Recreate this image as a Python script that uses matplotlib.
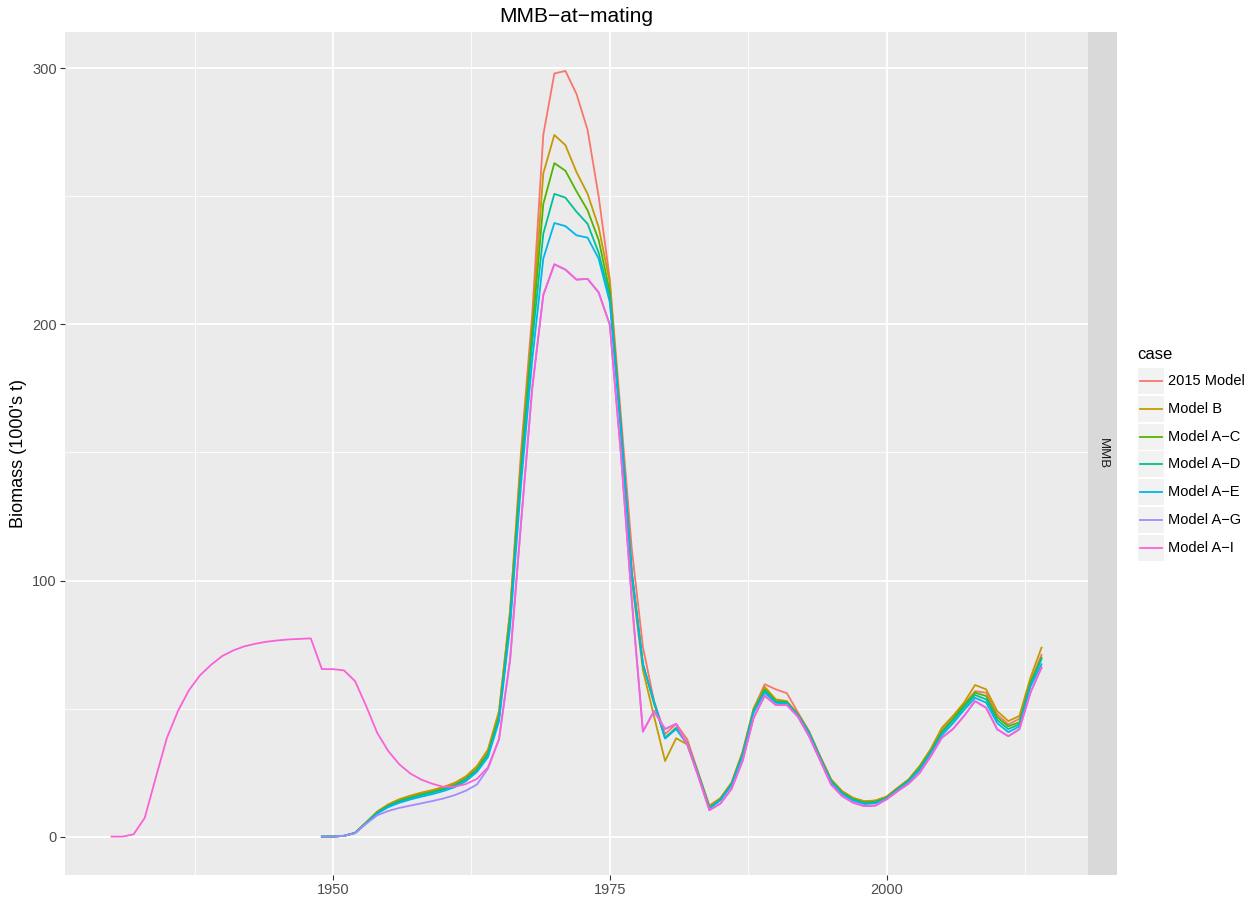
import numpy as np
import matplotlib.pyplot as plt
from matplotlib.lines import Line2D
from matplotlib.patches import Rectangle

plt.rcParams['font.family'] = ['Liberation Sans', 'DejaVu Sans']

# years: Model A-I runs from 1930, the others from 1949
years_ai = np.arange(1930, 2015)
years = np.arange(1949, 2015)

cases = ["2015 Model", "Model B", "Model A\u2212C", "Model A\u2212D",
         "Model A\u2212E", "Model A\u2212G", "Model A\u2212I"]
colors = ["#F8766D", "#C49A00", "#53B400", "#00C094", "#00B6EB", "#A58AFF", "#FB61D7"]

mmb_2015 = [0, 0, 0.3, 1.5, 5.5, 9.6, 12.4, 14.4, 15.8, 17.0,
            18.0, 19.2, 20.8, 23.2, 27.0, 33.5, 48.5, 88, 151, 204,
            274, 298, 299, 290, 276, 250, 218, 165, 112, 74,
            53, 40, 44, 38, 25, 12, 15, 21, 33, 50,
            59.5, 57.5, 56, 48.5, 41.2, 31.5, 22.3, 17.7, 15, 13.8,
            14, 15.5, 19, 22.3, 27.5, 34, 42, 47, 51.5, 56.8,
            56.2, 47.7, 43.8, 46, 60.5, 71]
mmb_b = [0, 0, 0.3, 1.5, 5.6, 9.8, 12.6, 14.6, 16.0, 17.2,
         18.2, 19.4, 21.0, 23.5, 27.5, 34, 49, 88, 148, 200,
         259, 274, 270, 259.5, 251, 238, 216.6, 160, 100, 65,
         47, 29.5, 38.4, 36, 24.5, 12, 15, 21, 33, 50,
         58.5, 53.6, 52.9, 47.7, 41, 31.3, 22.3, 17.7, 15.1, 13.8,
         14.1, 15.6, 19, 22.3, 27.6, 34.2, 42.5, 47.1, 52.3, 59.2,
         57.5, 49, 45.1, 47.1, 62, 73.8]
mmb_ac = [0, 0, 0.3, 1.4, 5.4, 9.4, 12.1, 14.0, 15.3, 16.5,
          17.5, 18.7, 20.2, 22.6, 26.3, 32.5, 47, 86, 145, 197,
          247, 263, 260, 252, 244.6, 233, 213, 161, 103, 67.5,
          52, 38.6, 42.5, 36.5, 24.5, 11.3, 14.6, 20.5, 32.3, 49.3,
          57.5, 52.9, 52.6, 47.7, 40.8, 31, 21.9, 17.2, 14.6, 13.3,
          13.6, 15.2, 18.7, 22, 27, 33.4, 41, 46, 51.3, 56.2,
          54.9, 46.6, 43.1, 44.6, 60.1, 69.9]
mmb_ad = [0, 0, 0.3, 1.4, 5.3, 9.2, 11.9, 13.7, 15.0, 16.2,
          17.2, 18.4, 19.9, 22.3, 25.9, 32, 46, 84, 142, 193,
          235.4, 251, 249.5, 244, 239.3, 228, 211, 160, 103, 67.3,
          52.5, 38.4, 42.3, 36.3, 24.3, 11.1, 14.4, 20.3, 32, 49,
          57, 52.5, 52.3, 47.4, 40.6, 30.8, 21.6, 17, 14.4, 13.1,
          13.4, 15, 18.5, 21.8, 26.6, 33, 40.5, 45.3, 50.4, 55.3,
          53.6, 45.5, 42, 43.8, 59.3, 69.3]
mmb_ae = [0, 0, 0.3, 1.4, 5.2, 9.0, 11.5, 13.2, 14.5, 15.6,
          16.6, 17.8, 19.3, 21.6, 25.2, 31, 45, 82, 138, 186,
          225.7, 239.6, 238.4, 234.8, 233.9, 225.7, 208.8, 159, 102, 67,
          52.8, 38.3, 42, 36.1, 24, 10.9, 14.2, 20, 31.5, 48.5,
          56.2, 52.2, 52, 47.2, 40.3, 30.5, 21.2, 16.6, 14, 12.7,
          13, 14.8, 18.2, 21.4, 26, 32.5, 39.6, 44.2, 49.4, 54.2,
          52.3, 44.3, 40.8, 43, 58.5, 67.3]
mmb_ag = [0, 0, 0.3, 1.3, 5.0, 8.3, 10.0, 11.2, 12.1, 13.0,
          13.9, 14.9, 16.2, 17.9, 20.3, 26.5, 38, 69, 123, 175,
          211.5, 223.5, 221.4, 217.5, 217.8, 212.5, 200, 150, 92, 41,
          49, 42, 44, 36, 23.5, 10.3, 12.9, 18.6, 29.5, 46.4,
          55, 51.4, 51.4, 46.8, 39.2, 29.8, 20.3, 15.8, 13.2, 11.9,
          12.1, 14.5, 17.7, 20.7, 24.9, 31.4, 38.6, 42, 47.1, 52.9,
          50.3, 41.9, 39.2, 41.9, 56.2, 66]
mmb_ai = [0, 0, 0.9, 7.3, 23, 38.5, 49, 57.2, 63, 67.1,
          70.5, 72.7, 74.3, 75.3, 76.1, 76.6, 77, 77.2, 77.4, 65.4,
          65.4, 64.9, 60.7, 51, 40.5, 33.4, 28.2, 24.6, 22.2, 20.6,
          19.4, 19.5, 20.5, 22.5, 27, 38, 69, 123, 175, 211.5,
          223.5, 221.4, 217.5, 217.8, 212.5, 200, 150, 92, 41, 49,
          42, 44, 36, 23.5, 10.3, 12.9, 18.6, 29.5, 46.4, 55,
          51.4, 51.4, 46.8, 39.2, 29.8, 20.3, 15.8, 13.2, 11.9, 12.1,
          14.5, 17.7, 20.7, 24.9, 31.4, 38.6, 42, 47.1, 52.9, 50.3,
          41.9, 39.2, 41.9, 56.2, 66]

series = [(years, mmb_2015), (years, mmb_b), (years, mmb_ac), (years, mmb_ad),
          (years, mmb_ae), (years, mmb_ag), (years_ai, mmb_ai)]

W, H = 1257, 900
fig = plt.figure(figsize=(W / 100, H / 100), dpi=100)
fig.patch.set_facecolor('white')

# panel in pixel coords
px_l, px_r, px_t, px_b = 65, 1088, 32, 875
ax = fig.add_axes([px_l / W, 1 - px_b / H, (px_r - px_l) / W, (px_b - px_t) / H])
ax.set_facecolor('#EBEBEB')
for s in ax.spines.values():
    s.set_visible(False)

for (x, y), c in zip(series, colors):
    ax.plot(x, y, color=c, lw=1.3, solid_joinstyle='round')

ax.set_xlim(1925.8, 2018.2)
ax.set_ylim(-15, 314.2)
ax.set_xticks([1950, 1975, 2000])
ax.set_xticks([1937.5, 1962.5, 1987.5, 2012.5], minor=True)
ax.set_yticks([0, 100, 200, 300])
ax.set_yticks([50, 150, 250], minor=True)
ax.grid(which='major', color='white', lw=1.3)
ax.grid(which='minor', color='white', lw=0.6)
ax.set_axisbelow(True)
ax.tick_params(which='major', length=3.5, width=0.8, color='#333333',
               labelsize=10.5, labelcolor='#4D4D4D', pad=2.5)
ax.tick_params(which='minor', length=0)

# title and y label placed in pixels
fig.text((px_l + px_r) / 2 / W, 1 - 16 / H, "MMB\u2212at\u2212mating",
         fontsize=15, ha='center', va='center', color='black')
fig.text(19 / W, 1 - (px_t + px_b) / 2 / H, "Biomass (1000's t)", rotation=90,
         fontsize=13, ha='center', va='center', color='black')

# facet strip on the right
strip = Rectangle((px_r / W, 1 - px_b / H), (1117 - px_r) / W, (px_b - px_t) / H,
                  transform=fig.transFigure, facecolor='#D9D9D9', edgecolor='none')
fig.add_artist(strip)
fig.text((px_r + 1117) / 2 / W, 1 - (px_t + px_b) / 2 / H, "MMB", rotation=270,
         ha='center', va='center', fontsize=9.5, color='#1A1A1A')

# legend, drawn ggplot-style
fig.text(1137 / W, 1 - 355 / H, "case", fontsize=12, ha='left', va='center')
row0, step = 381, 27.8
for i, (lab, c) in enumerate(zip(cases, colors)):
    yc = row0 + i * step
    fig.add_artist(Rectangle((1138 / W, 1 - (yc + 13) / H), 26 / W, 26 / H,
                             transform=fig.transFigure, facecolor='#F2F2F2',
                             edgecolor='none'))
    fig.add_artist(Line2D([1140 / W, 1162 / W], [1 - yc / H, 1 - yc / H],
                          transform=fig.transFigure, color=c, lw=1.3))
    fig.text(1168 / W, 1 - yc / H, lab, fontsize=10.5, ha='left', va='center',
             color='black')

fig.savefig('out.png', dpi=100)
